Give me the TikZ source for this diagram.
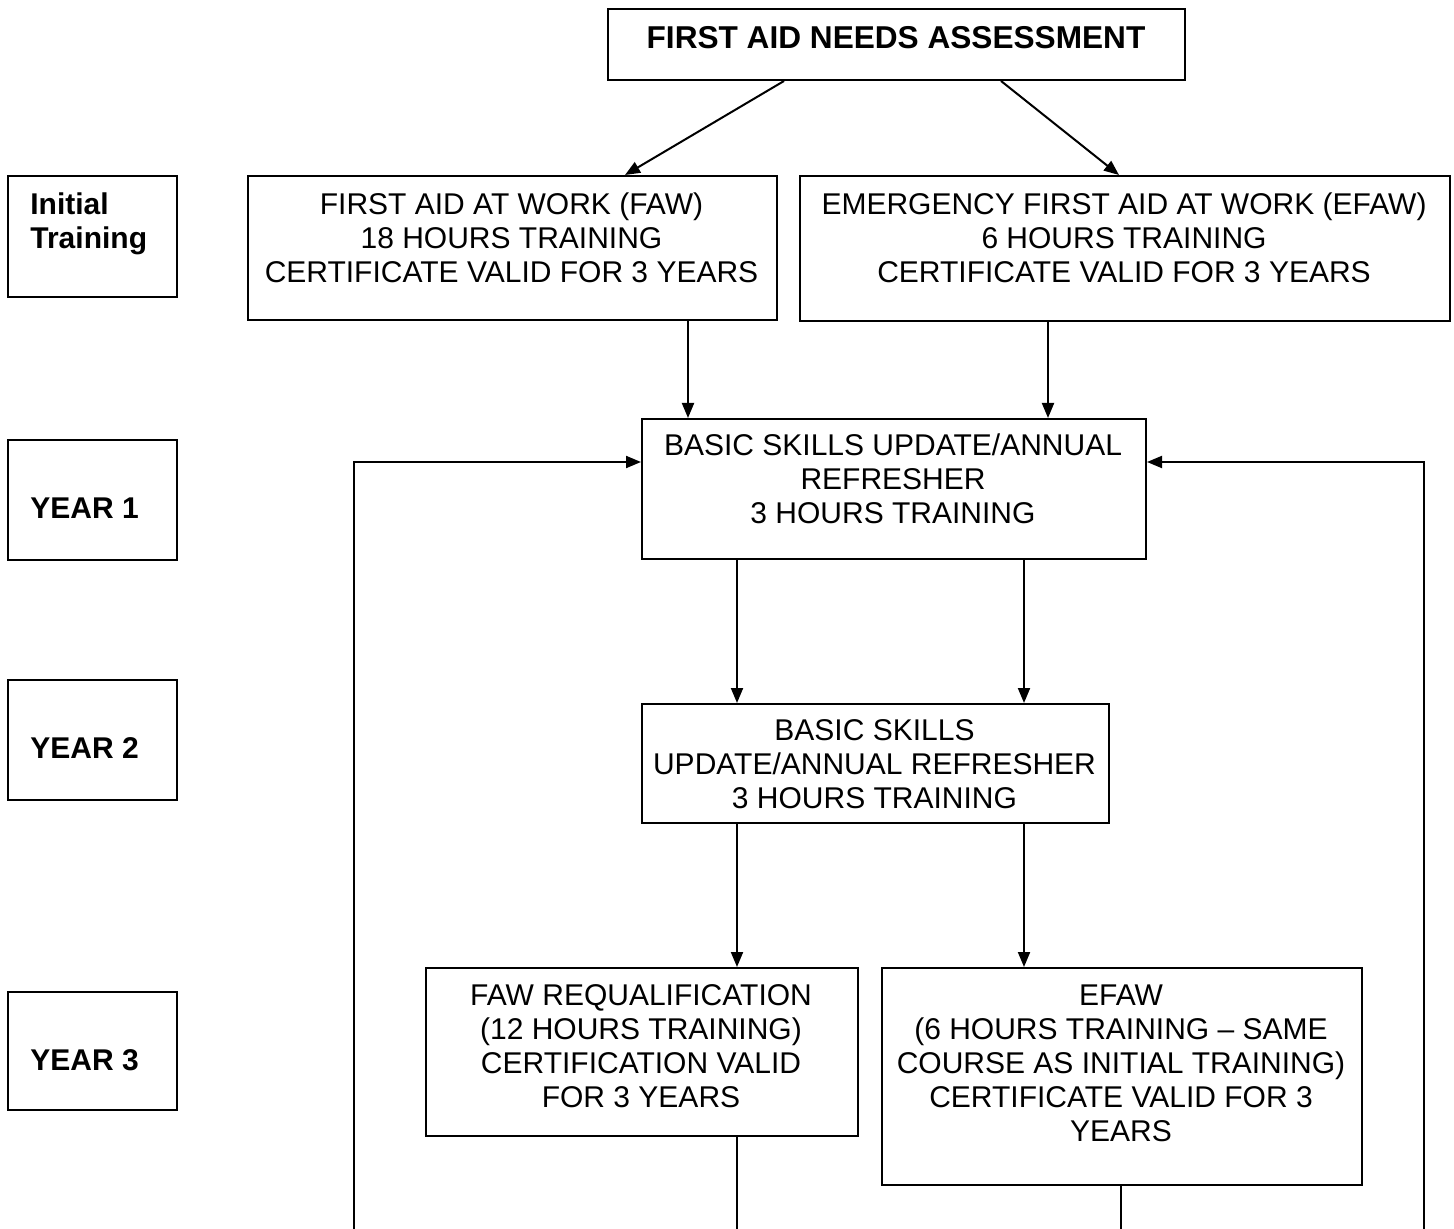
\documentclass[tikz,border=0pt]{standalone}
\usepackage{fontspec}
\setmainfont{Liberation Sans}
\usetikzlibrary{arrows.meta}
\begin{document}
\begin{tikzpicture}[x=0.5pt,y=-0.5pt,
  box/.style={draw, line width=1pt, inner sep=0pt, anchor=north west},
  txt/.style={anchor=north, align=center, inner sep=0pt, font=\fontsize{15}{17}\selectfont},
  lbl/.style={anchor=base west, align=left, inner sep=0pt, font=\fontsize{15}{17}\selectfont\bfseries},
  arr/.style={line width=1pt, -{Triangle[length=7.5pt,width=6pt]}},
  ln/.style={line width=1pt}]
\useasboundingbox (0,0) rectangle (1454,1229);

% boxes
\node[box, minimum width=288.5pt, minimum height=35.5pt] (top) at (607,8) {};
\node[anchor=base, inner sep=0pt, font=\fontsize{15.8}{18}\selectfont\bfseries] (topt) at (896,49) {FIRST AID NEEDS ASSESSMENT};

\node[box, minimum width=84.5pt, minimum height=60.5pt] (init) at (7,175) {};
\node[lbl, anchor=north west] (initt) at (30,192) {Initial\\Training};

\node[box, minimum width=264.5pt, minimum height=72pt] (faw) at (247,175) {};
\node[txt] (fawt) at (511.5,192) {FIRST AID AT WORK (FAW)\\18 HOURS TRAINING\\CERTIFICATE VALID FOR 3 YEARS};

\node[box, minimum width=325pt, minimum height=72.5pt] (efaw) at (799,175) {};
\node[txt] (efawt) at (1124,192) {EMERGENCY FIRST AID AT WORK (EFAW)\\6 HOURS TRAINING\\CERTIFICATE VALID FOR 3 YEARS};

\node[box, minimum width=84.5pt, minimum height=60pt] (y1) at (7,439) {};
\node[lbl] (y1t) at (30,518) {YEAR 1};

\node[box, minimum width=252pt, minimum height=70pt] (b1) at (641,418) {};
\node[txt] (b1t) at (893,433) {BASIC SKILLS UPDATE/ANNUAL\\REFRESHER\\3 HOURS TRAINING};

\node[box, minimum width=84.5pt, minimum height=60pt] (y2) at (7,679) {};
\node[lbl] (y2t) at (30,758) {YEAR 2};

\node[box, minimum width=233.5pt, minimum height=59.5pt] (b2) at (641,703) {};
\node[txt] (b2t) at (874.5,719) {BASIC SKILLS\\UPDATE/ANNUAL REFRESHER\\3 HOURS TRAINING};

\node[box, minimum width=84.5pt, minimum height=59pt] (y3) at (7,991) {};
\node[lbl] (y3t) at (30,1070) {YEAR 3};

\node[box, minimum width=216pt, minimum height=84pt] (fr) at (425,967) {};
\node[txt] (frt) at (641,984) {FAW REQUALIFICATION\\(12 HOURS TRAINING)\\CERTIFICATION VALID\\FOR 3 YEARS};

\node[box, minimum width=240pt, minimum height=108.5pt] (e2) at (881,967) {};
\node[txt] (e2t) at (1121,984) {EFAW\\(6 HOURS TRAINING – SAME\\COURSE AS INITIAL TRAINING)\\CERTIFICATE VALID FOR 3\\YEARS};

% helper coordinates
\coordinate (a1) at (784,0);
\coordinate (a2) at (625,0);
\coordinate (a3) at (1001,0);
\coordinate (a4) at (1119,0);
\coordinate (v1) at (688,0);
\coordinate (v2) at (1048,0);
\coordinate (v3) at (737,0);
\coordinate (v4) at (1024,0);
\coordinate (ly) at (0,462);
\coordinate (lb) at (354,1229);
\coordinate (rb) at (1424,1229);
\coordinate (fb) at (737,1229);
\coordinate (eb) at (1121,1229);

% connectors
\draw[arr] (top.south -| a1) -- (faw.north -| a2);
\draw[arr] (top.south -| a3) -- (efaw.north -| a4);
\draw[arr] (faw.south -| v1) -- (b1.north -| v1);
\draw[arr] (efaw.south -| v2) -- (b1.north -| v2);
\draw[arr] (b1.south -| v3) -- (b2.north -| v3);
\draw[arr] (b1.south -| v4) -- (b2.north -| v4);
\draw[arr] (b2.south -| v3) -- (fr.north -| v3);
\draw[arr] (b2.south -| v4) -- (e2.north -| v4);
\draw[ln] (fr.south -| fb) -- (fb);
\draw[ln] (e2.south -| eb) -- (eb);
\draw[arr] (lb) |- (b1.west |- ly);
\draw[arr] (rb) |- (b1.east |- ly);
\end{tikzpicture}
\end{document}
